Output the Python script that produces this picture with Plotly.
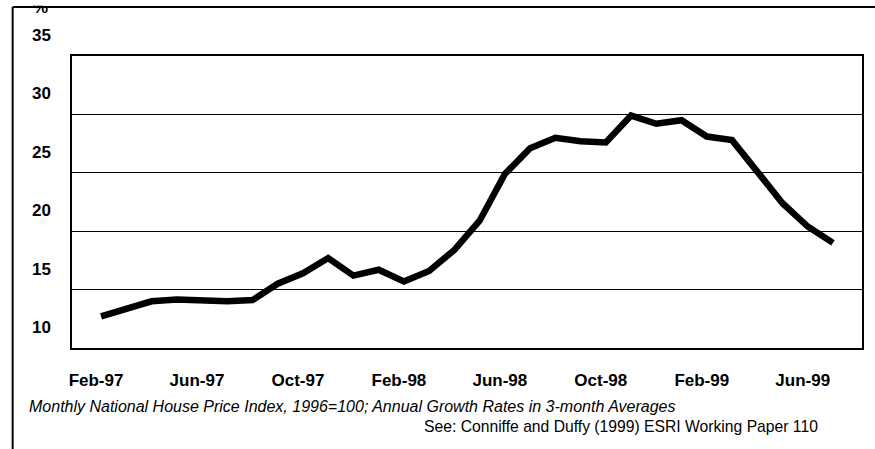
import plotly.graph_objects as go

months = ["Feb-97", "Mar-97", "Apr-97", "May-97", "Jun-97", "Jul-97", "Aug-97", "Sep-97",
          "Oct-97", "Nov-97", "Dec-97", "Jan-98", "Feb-98", "Mar-98", "Apr-98", "May-98",
          "Jun-98", "Jul-98", "Aug-98", "Sep-98", "Oct-98", "Nov-98", "Dec-98", "Jan-99",
          "Feb-99", "Mar-99", "Apr-99", "May-99", "Jun-99", "Jul-99"]
growth = [12.7, 13.4, 14.0, 14.15, 14.1, 14.0, 14.1, 15.5, 16.4, 17.7, 16.2, 16.7, 15.7, 16.6,
          18.4, 20.9, 24.9, 27.1, 28.0, 27.7, 27.6, 29.9, 29.2, 29.5, 28.1, 27.8, 25.1, 22.4,
          20.4, 19.0]
x_ticks = months[::4]
y_ticks = [10, 15, 20, 25, 30, 35]
note1 = "Monthly National House Price Index, 1996=100; Annual Growth Rates in 3-month Averages"
note2 = "See: Conniffe and Duffy (1999) ESRI Working Paper 110"

# plot-area geometry in pixels (used to convert page positions to paper coords)
L, R, T, B = 72, 864, 56, 348
W, H = 875, 449


def px(xp):
    return (xp - L) / (R - L)


def py(yp):
    return (B - yp) / (B - T)


fig = go.Figure(go.Scatter(
    x=months, y=growth, mode="lines",
    line=dict(color="black", width=6.5),
    hoverinfo="skip",
))

fig.update_layout(
    width=W, height=H,
    margin=dict(l=L, r=W - R, t=T, b=H - B),
    paper_bgcolor="white", plot_bgcolor="white",
    showlegend=False,
    font=dict(family="Liberation Sans, Arial, sans-serif", color="black"),
)

fig.update_xaxes(
    type="category",
    range=[-1.15, 30.15],
    tickvals=x_ticks, ticktext=x_ticks,
    tickfont=dict(size=17, weight="bold"),
    ticks="", showgrid=False, zeroline=False,
    showline=True, linecolor="black", linewidth=1.5, mirror=True,
    ticklabelstandoff=16, ticklabelshift=-5,
)
fig.update_yaxes(
    range=[10, 35],
    tickvals=y_ticks,
    tickfont=dict(size=17, weight="bold"),
    ticks="", showgrid=True, gridcolor="black", gridwidth=1,
    zeroline=False,
    showline=True, linecolor="black", linewidth=1.5, mirror=True,
    ticklabelstandoff=16, ticklabelshift=-21,
)

# outer frame: top and left edges
fig.add_shape(type="line", xref="paper", yref="paper",
              x0=px(12.5), x1=px(W + 5), y0=py(7), y1=py(7),
              line=dict(color="black", width=2))
fig.add_shape(type="line", xref="paper", yref="paper",
              x0=px(12.5), x1=px(12.5), y0=py(7), y1=py(W),
              line=dict(color="black", width=2))

# cut-off "%" unit label at top (upper part hidden, as in the original scan)
fig.add_annotation(text="%", xref="paper", yref="paper", x=px(40), y=py(19),
                   xanchor="center", yanchor="bottom", showarrow=False,
                   font=dict(size=17, weight="bold"))
fig.add_annotation(text=" ", xref="paper", yref="paper", x=px(40), y=py(-2),
                   xanchor="center", yanchor="top", showarrow=False,
                   width=24, height=6, bgcolor="white", borderpad=0,
                   font=dict(size=4))

fig.add_annotation(text=note1, xref="paper", yref="paper", x=px(27), y=py(406),
                   xanchor="left", yanchor="middle", showarrow=False,
                   font=dict(size=16, style="italic"))
fig.add_annotation(text=note2, xref="paper", yref="paper", x=px(822), y=py(426),
                   xanchor="right", yanchor="middle", showarrow=False,
                   font=dict(size=15.7))

fig.write_html("out.html", config={"displayModeBar": False},
               post_script="document.body.style.margin='0';")
